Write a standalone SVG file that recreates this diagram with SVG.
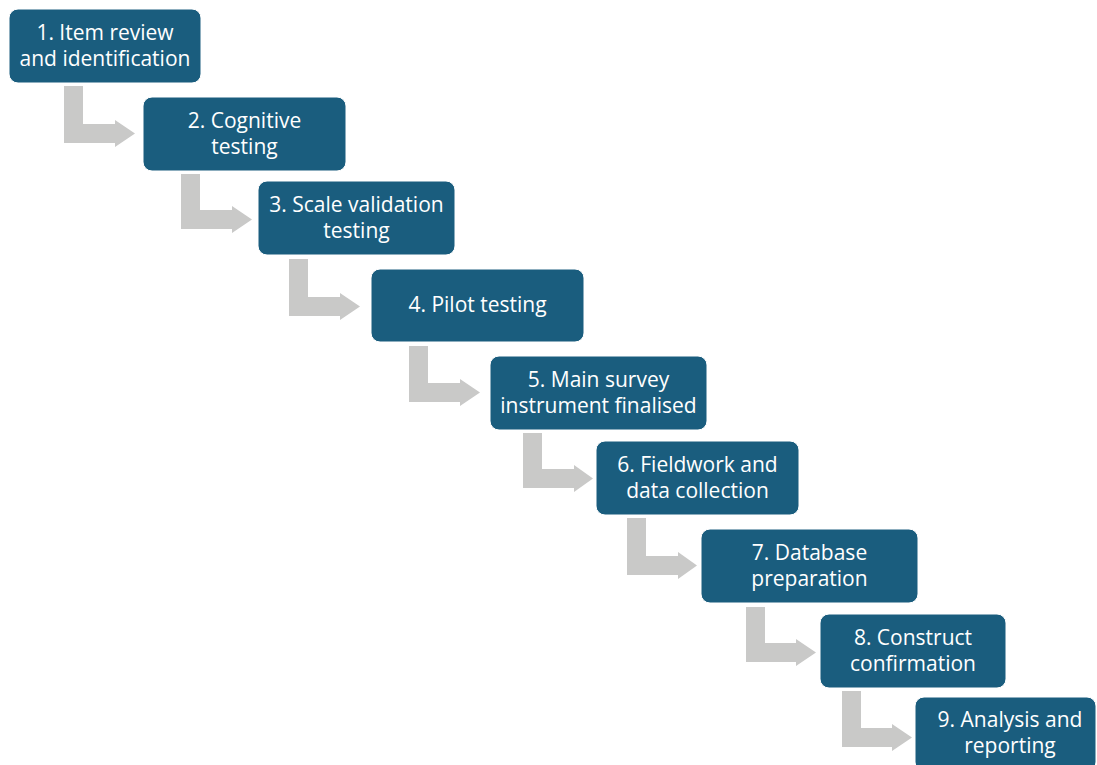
<svg xmlns="http://www.w3.org/2000/svg" width="1097" height="765" viewBox="0 0 1097 765">
<style>
.box{fill:#1A5D7E;stroke:#ffffff;stroke-width:1}
.arr{fill:#C9C9C8}
.t{font-family:"Open Sans","Noto Sans","Liberation Sans",sans-serif;font-size:21px;fill:#ffffff;text-anchor:middle}
</style>
<rect width="1097" height="765" fill="#ffffff"/>
<g id="connectors">
<path class="arr" d="M64 86 H83 V124 H115 V120 L135 133.5 L115 147 V143 H64 Z"/>
<path class="arr" d="M181 174 H200 V210 H232 V206 L252 219.5 L232 233 V229 H181 Z"/>
<path class="arr" d="M289 259 H308 V297 H340 V293 L360 306.5 L340 320 V316 H289 Z"/>
<path class="arr" d="M409 346 H428 V383 H460 V379 L480 392.5 L460 406 V402 H409 Z"/>
<path class="arr" d="M523 433 H542 V469 H574 V465 L593 478.5 L574 492 V488 H523 Z"/>
<path class="arr" d="M627 518 H646 V556 H678 V552 L697 565.5 L678 579 V575 H627 Z"/>
<path class="arr" d="M746 607 H765 V643 H796 V639 L816 652.5 L796 666 V662 H746 Z"/>
<path class="arr" d="M842 691 H861 V728 H892 V724 L912 737.5 L892 751 V747 H842 Z"/>
</g>
<g id="node1"><rect class="box" x="9" y="9" width="192" height="74" rx="9"/><text class="t" x="105" y="40">1. Item review</text><text class="t" x="105" y="66">and identification</text></g>
<g id="node2"><rect class="box" x="143" y="97" width="203" height="74" rx="9"/><text class="t" x="244.5" y="128">2. Cognitive</text><text class="t" x="244.5" y="154">testing</text></g>
<g id="node3"><rect class="box" x="258" y="181" width="197" height="74" rx="9"/><text class="t" x="356.5" y="212">3. Scale validation</text><text class="t" x="356.5" y="238">testing</text></g>
<g id="node4"><rect class="box" x="371" y="269" width="213" height="73" rx="9"/><text class="t" x="477.5" y="312">4. Pilot testing</text></g>
<g id="node5"><rect class="box" x="490" y="356" width="217" height="74" rx="9"/><text class="t" x="598.5" y="387">5. Main survey</text><text class="t" x="598.5" y="413">instrument finalised</text></g>
<g id="node6"><rect class="box" x="596" y="441" width="203" height="74" rx="9"/><text class="t" x="697.5" y="472">6. Fieldwork and</text><text class="t" x="697.5" y="498">data collection</text></g>
<g id="node7"><rect class="box" x="701" y="529" width="217" height="74" rx="9"/><text class="t" x="809.5" y="560">7. Database</text><text class="t" x="809.5" y="586">preparation</text></g>
<g id="node8"><rect class="box" x="820" y="614" width="186" height="74" rx="9"/><text class="t" x="913" y="645">8. Construct</text><text class="t" x="913" y="671">confirmation</text></g>
<g id="node9"><rect class="box" x="915" y="697" width="181" height="74" rx="9"/><text class="t" x="1010" y="727">9. Analysis and</text><text class="t" x="1010" y="753">reporting</text></g>
</svg>
